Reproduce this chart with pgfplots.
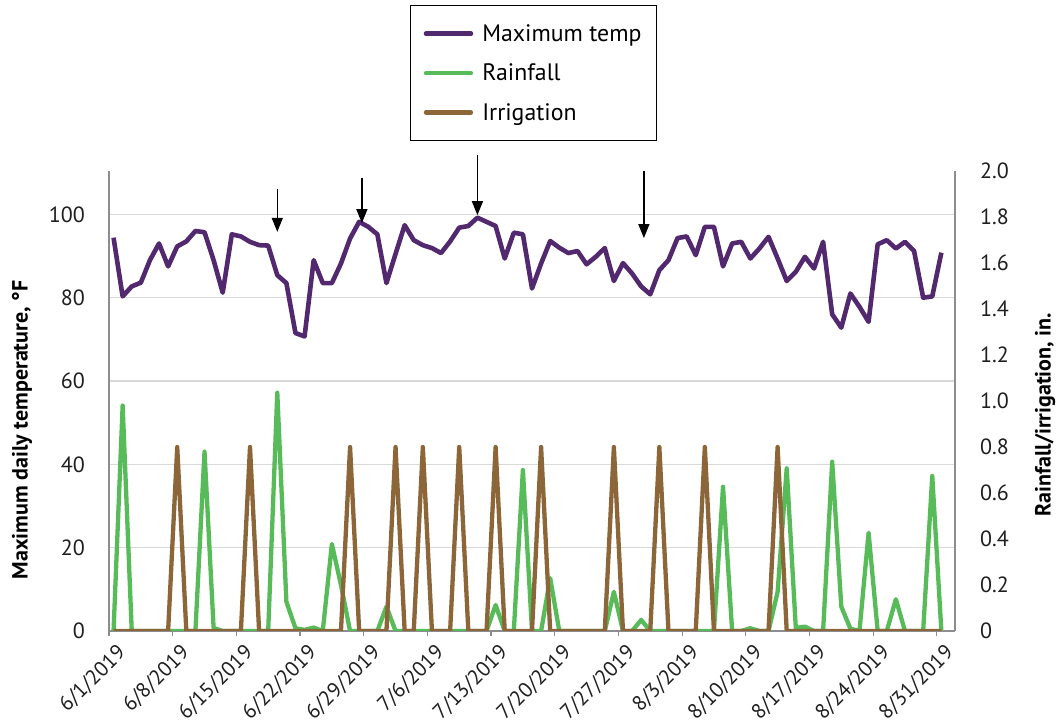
\documentclass[border=0pt]{standalone}
\usepackage{fontspec}
\setmainfont{PT Sans}
\usepackage{pgfplots}
\pgfplotsset{compat=1.18}
\usepackage{pgfplotstable}
\usetikzlibrary{arrows.meta}

\definecolor{tempc}{RGB}{82,40,110}
\definecolor{rainc}{RGB}{87,187,89}
\definecolor{irrc}{RGB}{140,102,56}
\definecolor{gridc}{RGB}{217,217,217}
\definecolor{axc}{RGB}{140,140,145}
\newcommand\tf{\fontsize{22bp}{26bp}\selectfont}
\newcommand\xf{\fontsize{21bp}{25bp}\selectfont}
\newcommand\lf{\fontsize{23.8bp}{27bp}\selectfont}

% day index (0 = 6/1/2019), max temp (F), rainfall (in.), irrigation (in.)
\pgfplotstableread{
day temp rain irr
0 94.4 0 0
1 80.3 0.98 0
2 82.7 0 0
3 83.6 0 0
4 89.0 0 0
5 93.0 0 0
6 87.5 0 0
7 92.3 0 0.8
8 93.5 0 0
9 96.0 0 0
10 95.7 0.78 0
11 89.0 0.013 0
12 81.2 0 0
13 95.2 0 0
14 94.7 0 0
15 93.4 0 0.8
16 92.6 0 0
17 92.5 0 0
18 85.4 1.036 0
19 83.5 0.127 0
20 71.5 0.012 0
21 70.7 0.005 0
22 89.0 0.015 0
23 83.5 0 0
24 83.5 0.378 0
25 88.2 0.2 0
26 94.2 0 0.8
27 98.2 0 0
28 97.0 0 0
29 95.2 0 0
30 83.5 0.106 0
31 90.5 0 0.8
32 97.4 0 0
33 93.8 0 0
34 92.6 0 0.8
35 91.9 0 0
36 90.7 0 0
37 93.5 0 0
38 96.8 0 0.8
39 97.2 0 0
40 99.2 0 0
41 98.2 0 0
42 97.2 0.113 0.8
43 89.4 0 0
44 95.6 0 0
45 95.2 0.70 0
46 82.2 0 0
47 88.2 0 0.8
48 93.6 0.23 0
49 92.0 0 0
50 90.7 0 0
51 91.2 0 0
52 88.0 0 0
53 89.8 0 0
54 91.9 0 0
55 84.0 0.17 0.8
56 88.3 0 0
57 85.8 0 0
58 82.7 0.048 0
59 80.8 0 0
60 86.6 0 0.8
61 89.0 0 0
62 94.3 0 0
63 94.7 0 0
64 90.2 0 0
65 97.0 0 0.8
66 97.0 0 0
67 87.5 0.627 0
68 93.0 0 0
69 93.4 0 0
70 89.4 0.012 0
71 91.8 0 0
72 94.6 0 0
73 89.4 0.17 0.8
74 84.0 0.707 0
75 86.2 0.013 0
76 89.8 0.019 0
77 87.0 0 0
78 93.4 0 0
79 76.0 0.736 0
80 72.8 0.106 0
81 81.0 0.01 0
82 77.8 0 0
83 74.2 0.427 0
84 92.8 0 0
85 93.8 0 0
86 91.8 0.138 0
87 93.4 0 0
88 91.2 0 0
89 80.0 0 0
90 80.3 0.674 0
91 90.8 0 0
}\weather

\pgfplotsset{
  common/.style={
    scale only axis, width=846bp, height=460bp,
    xmin=-0.5, xmax=92.5, ymin=0,
    axis line style={draw=axc, line width=1.3bp},
    tick align=outside, major tick length=5bp,
    ytick style={draw=none},
    /pgf/number format/assume math mode=true,
    tick label style={font=\tf, text=black!88},
  },
}

\begin{document}
\begin{tikzpicture}
\path[use as bounding box] (-109bp,-97bp) rectangle (948bp,631bp);
\begin{axis}[
  common,
  ymax=110.4,
  axis x line*=bottom, axis y line*=left,
  xtick={-0.5,6.5,13.5,20.5,27.5,34.5,41.5,48.5,55.5,62.5,69.5,76.5,83.5,90.5},
  xticklabels={6/1/2019,6/8/2019,6/15/2019,6/22/2019,6/29/2019,7/6/2019,7/13/2019,
    7/20/2019,7/27/2019,8/3/2019,8/10/2019,8/17/2019,8/24/2019,8/31/2019},
  xtick style={draw=axc, line width=1.2bp},
  x tick label style={rotate=45, anchor=east, inner sep=0pt, yshift=-19bp, font=\xf},
  ytick={0,20,40,60,80,100},
  yticklabel style={inner sep=0pt, xshift=-19bp},
  ymajorgrids, grid style={draw=gridc, line width=1.4bp},
  ylabel={\bfseries Maximum daily temperature, °F},
  ylabel style={at={(axis description cs:-0.1028,0.437)}, anchor=center, font=\tf},
  clip=false,
]
\addplot[tempc, line width=4.6bp, line join=round] table[x=day, y=temp]{\weather};
\draw[-{Triangle[width=11bp,length=14bp]}, line width=1.4bp] (axis cs:18,106.1) -- (axis cs:18,95.8);
\draw[-{Triangle[width=11bp,length=14bp]}, line width=1.4bp] (axis cs:27.3,108.7) -- (axis cs:27.3,97.9);
\draw[-{Triangle[width=11bp,length=14bp]}, line width=1.4bp] (axis cs:40,114.2) -- (axis cs:40,99.8);
\draw[-{Triangle[width=11bp,length=14bp]}, line width=1.4bp] (axis cs:58.3,110.4) -- (axis cs:58.3,94.3);
\end{axis}
\begin{axis}[
  common,
  ymax=2.0,
  axis x line=none, axis y line*=right,
  xtick=\empty,
  ytick={0,0.2,0.4,0.6,0.8,1.0,1.2,1.4,1.6,1.8,2.0},
  yticklabels={0,0.2,0.4,0.6,0.8,1.0,1.2,1.4,1.6,1.8,2.0},
  yticklabel style={inner sep=0pt, xshift=20bp},
  ylabel={\bfseries Rainfall/irrigation, in.},
  ylabel style={at={(axis description cs:1.1064,0.4696)}, anchor=center, font=\tf},
  legend style={at={(axis description cs:0.3558,1.3609)}, anchor=north west,
    draw=black, line width=1.3bp, font=\lf, inner xsep=13bp, inner ysep=17bp,
    row sep=17bp, /tikz/every odd column/.append style={column sep=7bp}},
  legend cell align=left,
  legend image code/.code={\draw[#1, line cap=round] (0bp,0bp) -- (45bp,0bp);},
]
\addlegendimage{tempc, line width=4.6bp}
\addlegendentry{Maximum temp}
\addplot[rainc, line width=4.3bp, line join=round] table[x=day, y=rain]{\weather};
\addlegendentry{Rainfall}
\addplot[irrc, line width=4.3bp, line join=round] table[x=day, y=irr]{\weather};
\addlegendentry{Irrigation}
\end{axis}
\end{tikzpicture}
\end{document}
